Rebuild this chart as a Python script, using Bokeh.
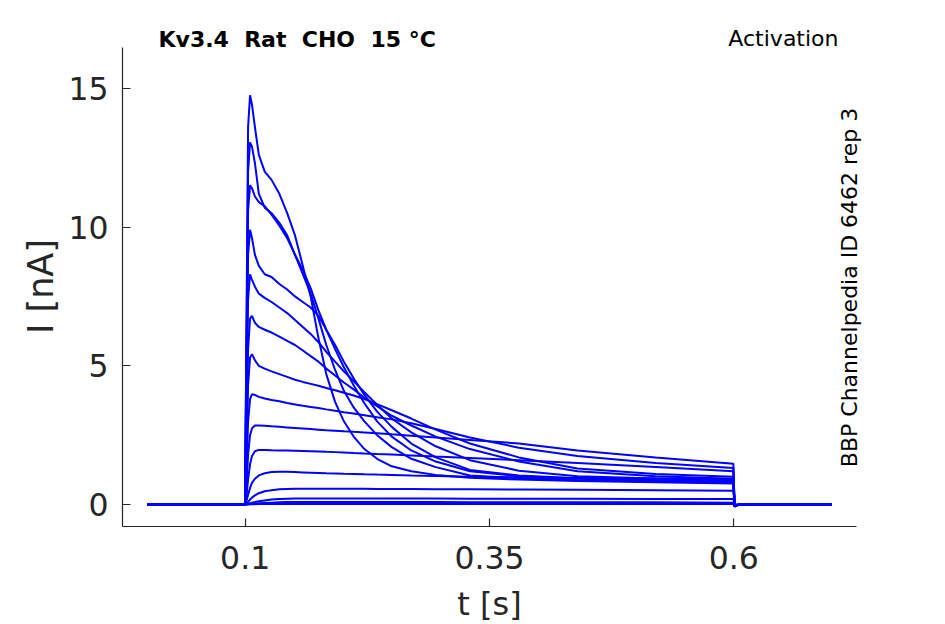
import math
from bokeh.plotting import figure
from bokeh.models import Range1d, FixedTicker, Label
from bokeh.embed import file_html
from bokeh.resources import INLINE

# ---- data ----
t_s = [0.0, 0.0998, 0.101, 0.103, 0.105, 0.107, 0.11, 0.114, 0.12, 0.127,
       0.135, 0.143, 0.151, 0.159, 0.167, 0.175, 0.183, 0.192, 0.201, 0.211,
       0.222, 0.235, 0.25, 0.27, 0.295, 0.33, 0.38, 0.44, 0.52, 0.5995,
       0.6008, 0.605, 0.7]

i_trace_01 = [0, 0, 5.0, 13.6, 14.75, 14.4, 13.6, 12.6, 12.0, 11.7, 11.2, 10.5, 9.7, 8.6, 7.5, 6.0,
              4.7, 3.7, 3.0, 2.45, 2.0, 1.65, 1.38, 1.2, 1.07, 0.97, 0.9, 0.85, 0.8, 0.76, -0.06, 0, 0]
i_trace_02 = [0, 0, 4.5, 12.0, 13.05, 12.9, 12.3, 11.2, 10.7, 10.5, 10.15, 9.7, 9.0, 8.3, 7.6, 6.7,
              5.75, 4.85, 4.1, 3.5, 3.0, 2.5, 2.07, 1.65, 1.35, 1.05, 0.95, 0.88, 0.83, 0.79, -0.06, 0, 0]
i_trace_03 = [0, 0, 4.0, 10.6, 11.5, 11.4, 11.1, 10.9, 10.75, 10.45, 10.05, 9.6, 9.0, 8.45, 7.8, 7.0,
              6.3, 5.6, 4.95, 4.3, 3.65, 3.0, 2.45, 1.95, 1.55, 1.2, 1.02, 0.93, 0.87, 0.82, -0.06, 0, 0]
i_trace_04 = [0, 0, 3.5, 9.0, 9.9, 9.6, 9.0, 8.6, 8.3, 8.2, 7.95, 7.75, 7.5, 7.3, 7.1, 6.8,
              6.3, 5.75, 5.15, 4.55, 3.95, 3.35, 2.8, 2.2, 1.7, 1.25, 1.05, 0.95, 0.89, 0.84, -0.06, 0, 0]
i_trace_05 = [0, 0, 2.8, 7.4, 8.3, 8.1, 7.85, 7.6, 7.45, 7.3, 7.1, 6.9, 6.65, 6.4, 6.15, 5.85,
              5.5, 5.15, 4.8, 4.45, 4.05, 3.6, 3.1, 2.6, 2.1, 1.6, 1.22, 1.02, 0.94, 0.89, -0.06, 0, 0]
i_trace_06 = [0, 0, 1.8, 5.6, 6.7, 6.8, 6.55, 6.4, 6.3, 6.2, 6.05, 5.9, 5.75, 5.55, 5.35, 5.15,
              4.9, 4.65, 4.4, 4.15, 3.85, 3.55, 3.2, 2.85, 2.45, 2.0, 1.55, 1.2, 1.02, 0.93, -0.06, 0, 0]
i_trace_07 = [0, 0, 1.2, 4.3, 5.3, 5.42, 5.2, 5.0, 4.9, 4.8, 4.7, 4.6, 4.5, 4.42, 4.35, 4.28,
              4.2, 4.12, 4.03, 3.93, 3.8, 3.62, 3.4, 3.1, 2.7, 2.2, 1.7, 1.3, 1.1, 1.0, -0.06, 0, 0]
i_trace_08 = [0, 0, 0.8, 3.0, 3.8, 3.98, 3.95, 3.88, 3.82, 3.77, 3.72, 3.66, 3.61, 3.56, 3.52, 3.48,
              3.43, 3.38, 3.33, 3.28, 3.22, 3.15, 3.07, 2.93, 2.72, 2.42, 2.05, 1.75, 1.5, 1.32, -0.06, 0, 0]
i_trace_09 = [0, 0, 0.4, 1.8, 2.5, 2.75, 2.85, 2.85, 2.84, 2.82, 2.8, 2.78, 2.76, 2.74, 2.72, 2.7,
              2.68, 2.66, 2.64, 2.62, 2.6, 2.57, 2.53, 2.48, 2.42, 2.33, 2.2, 1.95, 1.7, 1.47, -0.06, 0, 0]
i_trace_10 = [0, 0, 0.2, 0.9, 1.45, 1.75, 1.92, 1.97, 1.97, 1.96, 1.95, 1.95, 1.94, 1.93, 1.92, 1.91,
              1.9, 1.89, 1.88, 1.86, 1.84, 1.82, 1.8, 1.77, 1.73, 1.68, 1.6, 1.5, 1.35, 1.2, -0.06, 0, 0]
i_trace_11 = [0, 0, 0.08, 0.35, 0.6, 0.78, 0.93, 1.05, 1.13, 1.17, 1.18, 1.18, 1.17, 1.16, 1.15, 1.14,
              1.13, 1.12, 1.11, 1.1, 1.09, 1.08, 1.07, 1.05, 1.03, 1.0, 0.98, 0.96, 0.94, 0.92, -0.06, 0, 0]
i_trace_12 = [0, 0, 0.02, 0.1, 0.18, 0.25, 0.33, 0.41, 0.48, 0.52, 0.55, 0.56, 0.57, 0.57, 0.57, 0.57,
              0.57, 0.57, 0.57, 0.57, 0.57, 0.56, 0.56, 0.56, 0.55, 0.55, 0.54, 0.53, 0.52, 0.5, -0.03, 0, 0]
i_trace_13 = [0, 0, 0.01, 0.03, 0.05, 0.07, 0.09, 0.12, 0.15, 0.18, 0.2, 0.21, 0.22, 0.22, 0.22, 0.22,
              0.22, 0.22, 0.22, 0.22, 0.22, 0.22, 0.22, 0.22, 0.22, 0.21, 0.21, 0.21, 0.2, 0.2, -0.02, 0, 0]
i_trace_14 = [0, 0, 0.0, 0.01, 0.02, 0.03, 0.04, 0.05, 0.06, 0.07, 0.08, 0.09, 0.09, 0.09, 0.09, 0.09,
              0.09, 0.09, 0.09, 0.09, 0.09, 0.09, 0.09, 0.09, 0.09, 0.08, 0.08, 0.08, 0.08, 0.07, -0.02, 0, 0]
i_trace_15 = [0, 0, 0.0, 0.0, 0.01, 0.01, 0.01, 0.02, 0.02, 0.02, 0.02, 0.02, 0.02, 0.02, 0.02, 0.02,
              0.02, 0.02, 0.02, 0.02, 0.02, 0.02, 0.02, 0.02, 0.02, 0.02, 0.02, 0.02, 0.02, 0.02, -0.01, 0, 0]

x_ticks = [0.1, 0.35, 0.6]
x_tick_labels = ["0.1", "0.35", "0.6"]
y_ticks = [0, 5, 10, 15]
y_tick_labels = ["0", "5", "10", "15"]

NB = "\u00a0"
title_left = f"Kv3.4{NB}{NB}Rat{NB}{NB}CHO{NB}{NB}15{NB}\u00b0C"
title_right = "Activation"
side_text = "BBP Channelpedia ID 6462 rep 3"
x_label = "t [s]"
y_label = "I [nA]"

traces = [i_trace_01, i_trace_02, i_trace_03, i_trace_04, i_trace_05, i_trace_06, i_trace_07,
          i_trace_08, i_trace_09, i_trace_10, i_trace_11, i_trace_12, i_trace_13, i_trace_14,
          i_trace_15]
for k, tr in enumerate(traces):
    if len(tr) != len(t_s):
        raise ValueError(f"trace {k+1} has {len(tr)} values, expected {len(t_s)}")

# ---- layout geometry (pixels) ----
W, H = 945, 624
AX_L, AX_R, AX_T, AX_B = 122, 856, 47, 526      # where the axes box sits
X0, X1 = -0.0255, 0.7255                          # data extent of the axes box
Y0, Y1 = -0.79, 16.47
sx = (X1 - X0) / (AX_R - AX_L)
sy = (Y1 - Y0) / (AX_B - AX_T)

def px_x(px):
    return X0 + (px - AX_L) * sx

def px_y(py):
    return Y0 + (AX_B - py) * sy

FONT = "DejaVu Sans"
DARK = "#262626"

p = figure(width=W, height=H, output_backend="svg", toolbar_location=None,
           x_range=Range1d(px_x(0), px_x(W)), y_range=Range1d(px_y(H), px_y(0)),
           min_border=0, min_border_left=0, min_border_right=0,
           min_border_top=0, min_border_bottom=0)
p.outline_line_color = None
p.grid.visible = False
p.background_fill_color = "white"
p.border_fill_color = "white"

for ax in (p.xaxis[0], p.yaxis[0]):
    ax.axis_line_color = DARK
    ax.axis_line_width = 1.2
    ax.major_tick_line_color = DARK
    ax.major_tick_line_width = 1.2
    ax.major_tick_in = 8
    ax.major_tick_out = 0
    ax.minor_tick_line_color = None
    ax.major_label_text_font = FONT
    ax.major_label_text_font_size = "31.5px"
    ax.major_label_text_color = DARK

p.xaxis.fixed_location = Y0
p.xaxis.bounds = (X0, X1)
p.xaxis.ticker = FixedTicker(ticks=x_ticks)
p.xaxis.major_label_overrides = {v: s for v, s in zip(x_ticks, x_tick_labels)}
p.xaxis.major_label_standoff = 19

p.yaxis.fixed_location = X0
p.yaxis.bounds = (Y0, Y1)
p.yaxis.ticker = FixedTicker(ticks=y_ticks)
p.yaxis.major_label_overrides = {v: s for v, s in zip(y_ticks, y_tick_labels)}
p.yaxis.major_label_standoff = 14

for tr in traces:
    p.line(t_s, tr, line_color="#0000ff", line_width=2.0)

p.add_layout(Label(x=px_x(489), y=px_y(603.5), text=x_label, text_font=FONT,
                   text_font_size="32px", text_color=DARK, text_align="center",
                   text_baseline="middle"))
p.add_layout(Label(x=px_x(40), y=px_y(286), text=y_label, text_font=FONT,
                   text_font_size="35px", text_color=DARK, text_align="center",
                   text_baseline="middle", angle=math.pi / 2))
p.add_layout(Label(x=px_x(158), y=px_y(39), text=title_left, text_font=FONT,
                   text_font_size="22px", text_font_style="bold", text_color="black",
                   text_align="left", text_baseline="middle"))
p.add_layout(Label(x=px_x(838), y=px_y(38), text=title_right, text_font=FONT,
                   text_font_size="22px", text_color="black", text_align="right",
                   text_baseline="middle"))
p.add_layout(Label(x=px_x(849), y=px_y(287), text=side_text, text_font=FONT,
                   text_font_size="22px", text_color="black", text_align="center",
                   text_baseline="middle", angle=math.pi / 2))

open("out.html", "w").write(file_html(p, INLINE))
